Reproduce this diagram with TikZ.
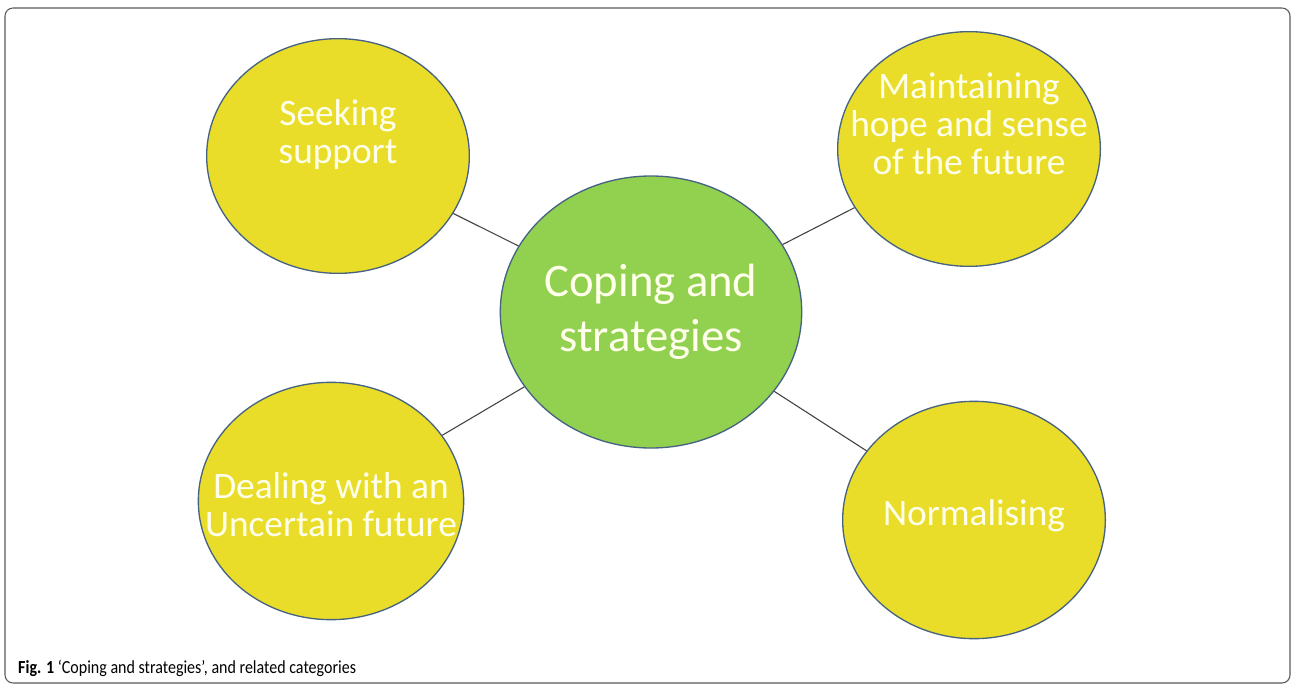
\documentclass[tikz,border=0pt]{standalone}
\usepackage{fontspec}
\setmainfont{Carlito}
\usepackage{xcolor}
\usetikzlibrary{shapes.geometric}
\definecolor{bubblefill}{RGB}{234,221,42}
\definecolor{corefill}{RGB}{146,208,80}
\definecolor{rimblue}{RGB}{70,100,130}
\definecolor{textcream}{RGB}{255,255,236}

\begin{document}
\begin{tikzpicture}[
x=0.75pt, y=-0.75pt,
  bubble/.style = {ellipse, draw=rimblue, line width=1pt, fill=bubblefill,
    minimum width=197pt, minimum height=176pt, inner sep=0pt},
  core/.style = {bubble, fill=corefill, minimum width=211pt, minimum height=204pt,
    text=textcream, align=center, font=\fontsize{35}{41}\selectfont},
  words/.style = {text=textcream, align=center, inner sep=0pt,
    font=\fontsize{28}{28.5}\selectfont},
  link/.style = {draw=black!75, line width=0.8pt}
]
\useasboundingbox (0,0) rectangle (1293,685);
\draw[gray!70!black, line width=0.8pt, rounded corners=6pt] (5,8) rectangle (1290,683);

% centre and the four categories
\node[core] (core) at (651,312) {Coping and\\strategies};
\node[bubble] (seek) at (338,156) {};
\node[bubble] (hope) at (969,149) {};
\node[bubble, minimum width=199pt, minimum height=178pt] (deal) at (331,501) {};
\node[bubble, minimum height=178pt] (norm) at (974,520) {};

\node[words] (seektxt) at (338,135) {Seeking\\support};
\node[words] (hopetxt) at (969,124) {Maintaining\\hope and sense\\of the future};
\node[words] (dealtxt) at (331,505) {Dealing with an\\Uncertain future};
\node[words] (normtxt) at (974,516) {Normalising};

\draw[link] (seek) -- (core);
\draw[link] (hope) -- (core);
\draw[link] (deal) -- (core);
\draw[link] (norm) -- (core);

% caption
\node[anchor=base west, inner sep=0pt, xscale=0.87, transform shape,
  font=\fontsize{13.8}{15}\selectfont] (cap) at (18,673)
  {\textbf{Fig. 1} `Coping and strategies', and related categories};
\end{tikzpicture}
\end{document}
